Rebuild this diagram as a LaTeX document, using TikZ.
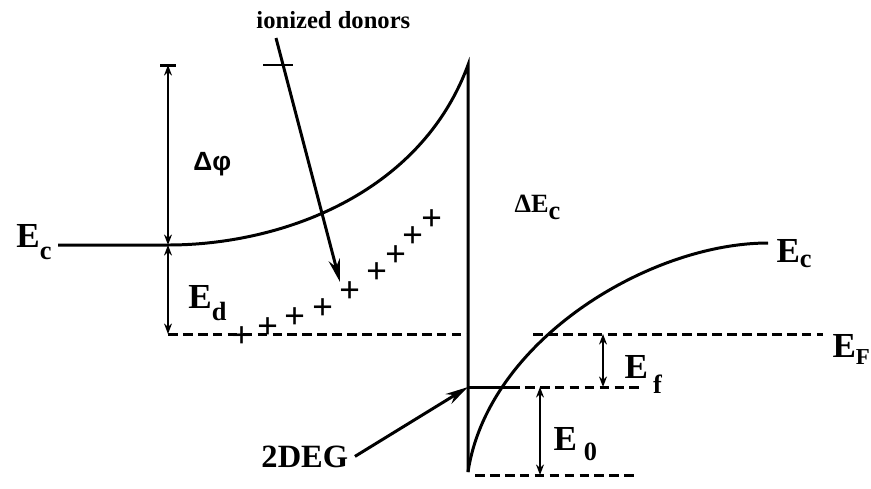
\documentclass[tikz,border=0pt]{standalone}
\usepackage{fontspec}
\setmainfont{Liberation Serif}
\newfontfamily\greekfont{Liberation Sans}
\usetikzlibrary{arrows.meta}
\newcommand{\sub}[2][5pt]{\raisebox{-#1}{\fontsize{15}{15}\selectfont #2}}

\begin{document}
\begin{tikzpicture}[x=0.02cm, y=-0.02cm, line width=1.7pt,
  every node/.style={font=\fontsize{20}{22}\selectfont\bfseries, inner sep=0pt},
  level/.style={dash pattern=on 5.5pt off 3pt},
  dim/.style={{Stealth[length=6pt,width=4.5pt]}-{Stealth[length=6pt,width=4.5pt]}, line width=1.3pt},
  pointer/.style={-{Stealth[length=13pt,width=6.5pt]}, line width=1.7pt},
  donor/.style={font=\fontsize{21}{21}\selectfont\bfseries}]
\useasboundingbox (0,0) rectangle (871,488);

% band edges
\coordinate (ecl) at (58,245);
\coordinate (kink) at (168,245);
\coordinate (top) at (168,65);
\coordinate (edl) at (168,334);
\coordinate (peak) at (468,65);
\coordinate (foot) at (468,472);
\coordinate (ecr) at (768,243);
\draw (ecl) -- (kink) .. controls (280,245) and (420,195) .. (peak) -- (foot);
\draw (foot) .. controls (488,340) and (650,243) .. (ecr);

% levels
\draw[level] (edl) -- (468,334);
\draw[level] (533,334) -- (823,334);
\coordinate (well) at (468,387);
\draw (well) -- (510,387);
\draw[level] (510,387) -- (643,387);
\draw[level] (475,475) -- (637,475);

% dimensions
\draw (160,65) -- (176,65);
\draw[line width=1pt] (263,65) -- (293,65);
\draw[dim] (top) -- (kink);
\draw[dim] (kink) -- (edl);
\draw[dim] (603,334) -- (603,387);
\draw[dim] (540,387) -- (540,475);

% ionized donors
\foreach \x/\y [count=\i] in {242/337, 268/328, 295/318, 323/309, 350/292,
                              377/273, 396/256, 413/237, 432/220}
  \node[donor] (plus\i) at (\x,\y) {+};

% labels
\node[anchor=base west] (ecleft) at (15,247) {E\sub[7pt]{c}};
\node[anchor=base west] (dphi) at (192,170) {\greekfont\fontsize{15}{15}\selectfont Δφ};
\node[anchor=base west] (ed) at (187,308) {E\sub[7pt]{d}};
\node[anchor=base west, font=\fontsize{15}{15}\selectfont\bfseries] (dec) at (513,212) {ΔE\sub[4pt]{c}};
\node[anchor=base west] (ecright) at (775,262) {E\sub[3pt]{c}};
\node[anchor=base west] (ef) at (831,357) {E{\fontsize{13}{13}\selectfont\raisebox{-4pt}{F}}};
\node[anchor=base west] (efw) at (623,378) {E\kern3pt\sub[9pt]{f}};
\node[anchor=base west] (e0) at (552,450) {E\kern4pt\sub[6pt]{0}};
\node[anchor=base west, font=\fontsize{14}{14}\selectfont\bfseries] (donors) at (255,28) {ionized donors};
\node[anchor=base west, font=\fontsize{18.5}{18.5}\selectfont\bfseries] (deg) at (260,467) {2DEG};

% pointers
\coordinate (tail) at (276,38);
\coordinate (tip) at (340,282);
\draw[pointer] (tail) -- (tip);
\draw[pointer] (deg.east) ++(3pt,0) -- (well);
\end{tikzpicture}
\end{document}
